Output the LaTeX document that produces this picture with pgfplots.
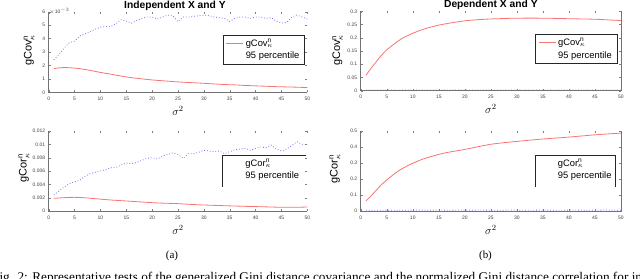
\documentclass[border=0pt]{standalone}
\usepackage{fontspec}
\setmainfont{Liberation Sans}
\newfontfamily\capfont{Liberation Serif}
\usepackage{amsmath}
\usepackage{pgfplots}
\pgfplotsset{compat=1.18}
\definecolor{cred}{RGB}{250,115,115}
\definecolor{cblue}{RGB}{115,115,250}
\pgfplotsset{
  myax/.style={
    scale only axis, xmin=0, xmax=50, xtick={0,5,...,50},
    tick align=inside, major tick length=2bp,
    tick style={draw=black!50, line width=0.3bp},
    axis line style={draw=none},
    tick label style={font=\fontsize{5}{6}\selectfont, text=black!75},
    xticklabel style={yshift=-1.2bp},
    /pgf/number format/assume math mode=true,
    scaled y ticks=false,
    title style={font=\fontsize{10.3}{12}\selectfont\bfseries, anchor=center},
    xlabel={$\sigma^2$},
    xlabel style={font=\fontsize{11}{13}\selectfont, at={(axis description cs:0.5,-0.235)}, anchor=center},
    ylabel style={font=\fontsize{11}{13}\selectfont, anchor=center},
    clip=false,
    legend cell align=left,
    legend style={anchor=north west, draw=black!85, line width=0.5bp,
      font=\fontsize{9.4}{11}\selectfont, inner xsep=3bp, inner ysep=1.5bp, row sep=0.5bp},
  },
  redl/.style={color=cred, line width=0.8bp, smooth},
  bluel/.style={color=cblue, line width=0.8bp, dotted},
}
\begin{document}
\begin{tikzpicture}
% ---------- Top left ----------
\begin{axis}[myax, at={(48.7bp,186.7bp)}, anchor=south west, width=258.6bp, height=80.6bp,
  ymin=0, ymax=6, ytick={0,1,...,6},
  title={Independent X and Y}, title style={at={(axis description cs:0.488,1.0)}},
  ylabel={gCov$^{\text{n}}_{\kappa}$}, ylabel style={at={(axis description cs:-0.076,0.52)}},
  legend style={at={(axis description cs:0.673,0.711)}}]
\addplot[redl] coordinates {(1,1.76)(2,1.82)(3,1.84)(4,1.83)(5,1.80)(6,1.76)(8,1.63)(10,1.48)(12,1.35)(14,1.21)(16,1.09)(18,1.00)(20,0.92)(22,0.86)(24,0.80)(26,0.75)(28,0.71)(30,0.67)(32,0.62)(34,0.58)(36,0.55)(38,0.51)(40,0.48)(42,0.45)(44,0.42)(46,0.40)(48,0.38)(50,0.35)};
\addlegendentry{gCov$^{\text{n}}_{\kappa}$}
\addplot[bluel, forget plot] coordinates {(1,2.41)(2,2.8)(3,3.3)(4,3.7)(5,3.8)(6,4.2)(7,4.35)(8,4.5)(9,4.7)(10,4.85)(11,4.9)(12,4.9)(13,5.1)(14,5.4)(15,5.3)(16,5.15)(17,5.35)(18,5.5)(19,5.6)(20,5.6)(21,5.45)(22,5.6)(23,5.75)(24,5.7)(25,5.25)(26,5.6)(27,5.6)(28,5.65)(29,5.7)(30,5.75)(31,5.7)(32,5.6)(33,5.55)(34,5.5)(35,5.27)(36,5.5)(37,5.6)(38,5.6)(39,5.5)(40,5.6)(41,5.6)(42,5.5)(43,5.55)(44,5.3)(45,5.15)(46,5.2)(47,5.6)(48,5.75)(49,5.6)(50,5.45)};
\addlegendimage{draw opacity=0}
\addlegendentry{95 percentile}
\node[anchor=west, font=\fontsize{5}{6}\selectfont, text=black!75, inner sep=0.5bp] at (axis description cs:0,1) {$\times$10$^{-3}$};
\draw[black!55, line width=0.5bp] (rel axis cs:0,1) -- (rel axis cs:0,0) -- (rel axis cs:1,0);
\end{axis}
% ---------- Bottom left ----------
\begin{axis}[myax, at={(48.7bp,68bp)}, anchor=south west, width=258.6bp, height=80bp,
  ymin=0, ymax=0.012, ytick={0,0.002,0.004,0.006,0.008,0.01,0.012},
  yticklabels={0,0.002,0.004,0.006,0.008,0.01,0.012},
  ylabel={gCor$^{\text{n}}_{\kappa}$}, ylabel style={at={(axis description cs:-0.096,0.54)}},
  legend style={at={(axis description cs:0.673,0.70)}, draw=none, fill=none}]
\addplot[redl, forget plot] coordinates {(1,0.0019)(3,0.0020)(5,0.00205)(7,0.00198)(10,0.00178)(12,0.00165)(15,0.0015)(18,0.00135)(20,0.00125)(22,0.00118)(25,0.0011)(28,0.00097)(30,0.0009)(33,0.00082)(35,0.00077)(38,0.0007)(40,0.00066)(43,0.0006)(45,0.00056)(48,0.00056)(50,0.0006)};
\addplot[bluel, forget plot] coordinates {(1,0.0024)(2,0.0030)(3,0.0036)(4,0.0041)(5,0.0044)(6,0.0046)(7,0.0052)(8,0.0056)(9,0.0058)(10,0.0060)(11,0.0062)(12,0.0065)(13,0.0065)(14,0.0069)(15,0.0072)(16,0.0071)(17,0.0073)(18,0.0076)(19,0.0079)(20,0.0080)(21,0.0078)(22,0.0082)(23,0.0085)(24,0.0087)(25,0.0085)(26,0.0079)(27,0.0086)(28,0.0086)(29,0.0088)(30,0.0091)(31,0.0090)(32,0.0089)(33,0.0090)(34,0.0086)(35,0.0089)(36,0.0092)(37,0.0093)(38,0.0094)(39,0.0091)(40,0.0094)(41,0.0096)(42,0.0095)(43,0.0099)(44,0.0093)(45,0.0090)(46,0.0093)(47,0.0098)(48,0.0104)(49,0.0100)(50,0.0100)};
\addlegendimage{draw opacity=0}
\addlegendentry{gCor$^{\text{n}}_{\kappa}$}
\addlegendimage{draw opacity=0}
\addlegendentry{95 percentile}
\draw[black!55, line width=0.5bp] (rel axis cs:0,1) -- (rel axis cs:0,0) -- (rel axis cs:1,0);
\draw[black!85, line width=0.5bp] (rel axis cs:0.996,0.70) -- (rel axis cs:0.673,0.70) -- (rel axis cs:0.673,0.30);
\end{axis}
% ---------- Top right ----------
\begin{axis}[myax, at={(360.7bp,188.3bp)}, anchor=south west, width=260.3bp, height=79.4bp,
  ymin=0, ymax=0.3, ytick={0,0.05,0.1,0.15,0.2,0.25,0.3},
  yticklabels={0,0.05,0.1,0.15,0.2,0.25,0.3},
  title={Dependent X and Y}, title style={at={(axis description cs:0.5,1.0)}},
  ylabel={gCov$^{\text{n}}_{\kappa}$}, ylabel style={at={(axis description cs:-0.089,0.51)}},
  legend style={at={(axis description cs:0.67,0.71)}}]
\addplot[redl] coordinates {(1,0.058)(2,0.085)(3,0.11)(4,0.134)(5,0.154)(6,0.17)(7,0.185)(8,0.198)(9,0.208)(10,0.217)(12,0.232)(14,0.243)(15,0.248)(17,0.255)(20,0.264)(23,0.269)(25,0.271)(28,0.273)(30,0.274)(35,0.274)(40,0.272)(45,0.270)(48,0.267)(50,0.265)};
\addlegendentry{gCov$^{\text{n}}_{\kappa}$}
\addplot[bluel, forget plot] coordinates {(1,0.003)(3,0.002)(5,0.003)(7,0.002)(9,0.003)(11,0.002)(13,0.003)(15,0.002)(17,0.003)(19,0.003)(21,0.002)(23,0.003)(25,0.003)(27,0.002)(29,0.003)(31,0.002)(33,0.003)(35,0.003)(37,0.002)(39,0.003)(41,0.002)(43,0.003)(45,0.003)(47,0.002)(49,0.003)(50,0.003)};
\addlegendimage{draw opacity=0}
\addlegendentry{95 percentile}
\draw[black!55, line width=0.5bp] (rel axis cs:0,1) -- (rel axis cs:0,0) -- (rel axis cs:1,0) -- (rel axis cs:1,1);
\end{axis}
% ---------- Bottom right ----------
\begin{axis}[myax, at={(360.7bp,68bp)}, anchor=south west, width=260.3bp, height=80bp,
  ymin=0, ymax=0.5, ytick={0,0.1,0.2,0.3,0.4,0.5},
  yticklabels={0,0.1,0.2,0.3,0.4,0.5},
  ylabel={gCor$^{\text{n}}_{\kappa}$}, ylabel style={at={(axis description cs:-0.099,0.525)}},
  legend style={at={(axis description cs:0.67,0.70)}, draw=none, fill=none}]
\addplot[redl, forget plot] coordinates {(1,0.0625)(2,0.095)(3,0.13)(4,0.165)(5,0.194)(6,0.22)(7,0.245)(8,0.265)(9,0.283)(10,0.298)(12,0.325)(15,0.354)(17,0.368)(20,0.385)(25,0.417)(30,0.435)(35,0.45)(40,0.462)(45,0.476)(50,0.487)};
\addplot[bluel, forget plot] coordinates {(1,0.005)(3,0.004)(5,0.005)(7,0.004)(9,0.005)(11,0.006)(13,0.005)(15,0.006)(17,0.005)(19,0.006)(21,0.005)(23,0.006)(25,0.005)(27,0.005)(29,0.006)(31,0.005)(33,0.005)(35,0.006)(37,0.005)(39,0.005)(41,0.006)(43,0.005)(45,0.005)(47,0.006)(49,0.005)(50,0.005)};
\addlegendimage{draw opacity=0}
\addlegendentry{gCor$^{\text{n}}_{\kappa}$}
\addlegendimage{draw opacity=0}
\addlegendentry{95 percentile}
\draw[black!55, line width=0.5bp] (rel axis cs:0,1) -- (rel axis cs:0,0) -- (rel axis cs:1,0) -- (rel axis cs:1,1);
\draw[black!85, line width=0.5bp] (rel axis cs:0.67,0.30) -- (rel axis cs:0.67,0.70) -- (rel axis cs:0.977,0.70) -- (rel axis cs:0.977,0.30);
\end{axis}
% ---------- sub-captions and caption line ----------
\node[font=\capfont\fontsize{11}{13}\selectfont] at (172bp,23bp) {(a)};
\node[font=\capfont\fontsize{11}{13}\selectfont] at (485.5bp,23bp) {(b)};
\node[anchor=base west, font=\capfont\fontsize{13.3}{15}\selectfont, inner sep=0] at (-8bp,-2.5bp) {Fig. 2: Representative tests of the generalized Gini distance covariance and the normalized Gini distance correlation for independent};
\pgfresetboundingbox
\path[use as bounding box] (0,0) rectangle (640bp,279bp);
\end{tikzpicture}
\end{document}
